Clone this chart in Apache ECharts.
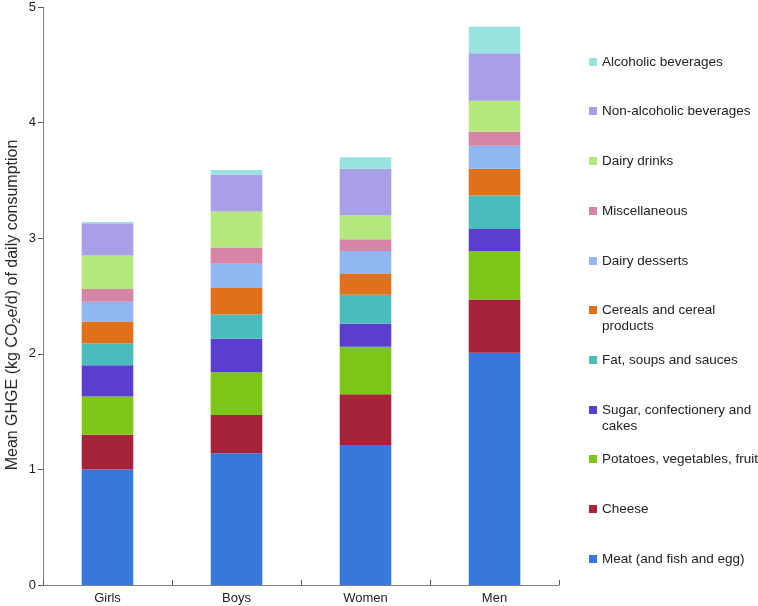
<!DOCTYPE html>
<html><head><meta charset="utf-8">
<script src="https://cdn.jsdelivr.net/npm/echarts@6/dist/echarts.min.js"></script>
<style>html,body{margin:0;padding:0;background:#fff}#c{width:758px;height:606px}</style>
</head><body><div id="c"></div>
<script>
// ---- data ----
const categories = ['Girls', 'Boys', 'Women', 'Men'];
const yTicks = [0, 1, 2, 3, 4, 5];
const meat        = [1.00, 1.14, 1.21, 2.01];
const cheese      = [0.30, 0.33, 0.44, 0.46];
const potatoes    = [0.33, 0.37, 0.41, 0.42];
const sugar       = [0.27, 0.29, 0.20, 0.19];
const fat         = [0.19, 0.21, 0.25, 0.29];
const cereals     = [0.19, 0.23, 0.18, 0.23];
const dairyDess   = [0.17, 0.21, 0.20, 0.20];
const misc        = [0.11, 0.14, 0.10, 0.12];
const dairyDrinks = [0.29, 0.31, 0.21, 0.27];
const nonAlc      = [0.28, 0.32, 0.40, 0.41];
const alcoholic   = [0.01, 0.04, 0.10, 0.23];
const seriesNames = ['Meat (and fish and egg)', 'Cheese', 'Potatoes, vegetables, fruit',
  'Sugar, confectionery and cakes', 'Fat, soups and sauces', 'Cereals and cereal products',
  'Dairy desserts', 'Miscellaneous', 'Dairy drinks', 'Non-alcoholic beverages', 'Alcoholic beverages'];
const seriesData = [meat, cheese, potatoes, sugar, fat, cereals, dairyDess, misc, dairyDrinks, nonAlc, alcoholic];

// ---- styles ----
const colors = ['#3878dc', '#a6243a', '#7cc618', '#5a3fcf', '#4abcbc', '#e07019',
  '#91b7f2', '#d584a6', '#b4e87c', '#a99fe6', '#98e3e0'];
const legendLabels = {
  'Cereals and cereal products': '{e|}\n{t|Cereals and cereal}\n{t|products}',
  'Sugar, confectionery and cakes': '{e|}\n{t|Sugar, confectionery and}\n{t|cakes}'
};
// legend icon centre y (top to bottom: Alcoholic ... Meat)
const legendCentres = [62, 111, 161, 211, 261, 310, 360, 410, 459, 509, 559];
const FONT = 'Liberation Sans, Arial, sans-serif';
const TXT = '#222';

const chart = echarts.init(document.getElementById('c'), null, {renderer: 'canvas'});

const legends = seriesNames.slice().reverse().map((name, i) => {
  const two = !!legendLabels[name];
  return {
    data: [name],
    orient: 'vertical',
    left: 589,
    top: legendCentres[i] - (two ? 24 : 8),
    padding: 0,
    itemWidth: 8,
    itemHeight: 8,
    itemGap: 5,
    icon: 'rect',
    selectedMode: false,
    formatter: n => legendLabels[n] || n,
    textStyle: {
      fontFamily: FONT, fontSize: 13.5, color: TXT, lineHeight: 16,
      rich: {
        e: {fontFamily: FONT, fontSize: 13.5, lineHeight: 16, height: 16},
        t: {fontFamily: FONT, fontSize: 13.5, color: TXT, lineHeight: 16, height: 16}
      }
    }
  };
});

chart.setOption({
  animation: false,
  backgroundColor: '#fff',
  textStyle: {fontFamily: FONT},
  grid: {left: 43, right: 199, top: 7, bottom: 21, containLabel: false, outerBoundsMode: 'none'},
  legend: legends,
  xAxis: {
    type: 'category',
    data: categories,
    boundaryGap: true,
    axisLine: {lineStyle: {color: '#808080', width: 1}},
    axisTick: {show: true, inside: true, length: 5, lineStyle: {color: '#555'}},
    axisLabel: {fontFamily: FONT, fontSize: 13, color: TXT, margin: 7}
  },
  yAxis: {
    type: 'value',
    min: yTicks[0], max: yTicks[yTicks.length - 1], interval: 1,
    name: '{a|Mean GHGE (kg CO}{s|2}{a|e/d) of daily consumption}',
    nameLocation: 'middle',
    nameGap: 21,
    nameMoveOverlap: false,
    nameTextStyle: {
      padding: [0, 18, 0, 0],
      rich: {
        a: {fontFamily: FONT, fontSize: 16, color: '#2a2a2a'},
        s: {fontFamily: FONT, fontSize: 11, color: '#2a2a2a', verticalAlign: 'bottom', padding: [7, 0, 0, 0]}
      }
    },
    splitLine: {show: false},
    axisLine: {show: true, lineStyle: {color: '#808080', width: 1}},
    axisTick: {show: true, length: 5, lineStyle: {color: '#555'}},
    axisLabel: {fontFamily: FONT, fontSize: 13, color: TXT, margin: 7}
  },
  series: seriesNames.map((name, i) => ({
    name,
    type: 'bar',
    stack: 'total',
    barWidth: '40%',
    data: seriesData[i],
    itemStyle: {color: colors[i]}
  }))
});
</script></body></html>
